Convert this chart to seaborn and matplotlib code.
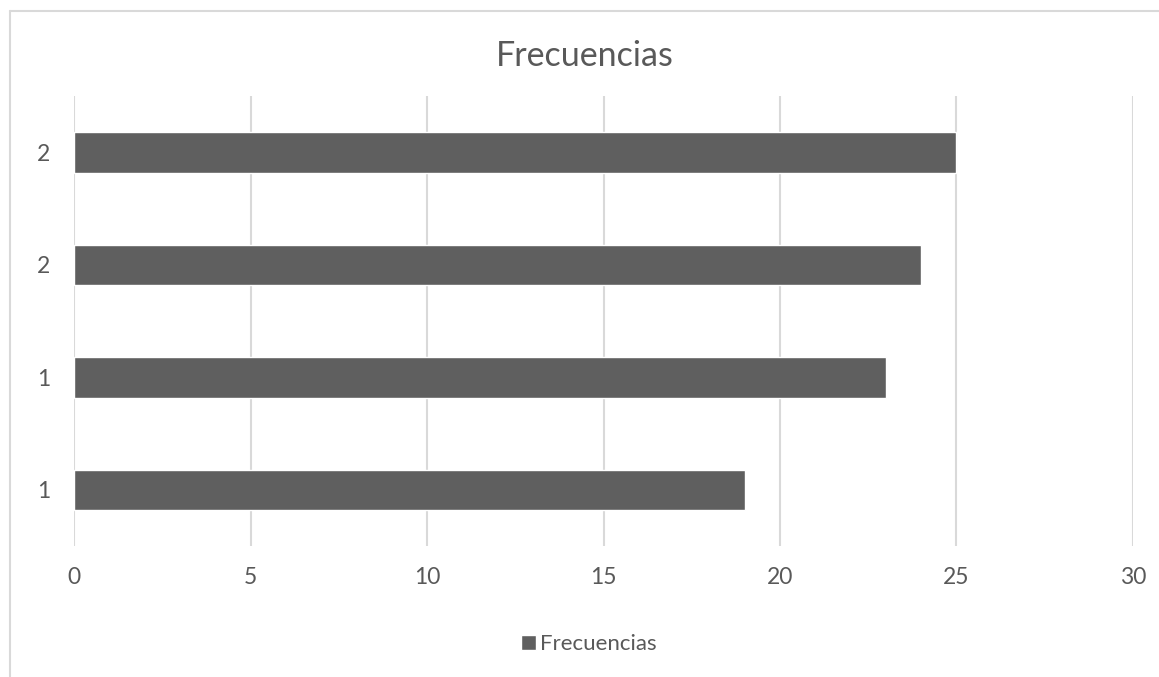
import matplotlib
matplotlib.use("Agg")
import matplotlib.pyplot as plt
from matplotlib.lines import Line2D
import seaborn as sns
import pandas as pd

# Data (top to bottom)
category_labels = ["2", "2", "1", "1"]
values = [25, 24, 23, 19]
series_name = "Frecuencias"
x_ticks = [0, 5, 10, 15, 20, 25, 30]

sns.set_theme(style="white")
plt.rcParams["font.family"] = ["Lato", "DejaVu Sans"]

TEXT = "#595959"
GRID = "#d9d9d9"
BAR = "#5f5f5f"

df = pd.DataFrame({
    "cat": [f"c{i}" for i in range(len(values))],
    "value": values,
    "series": [series_name] * len(values),
})

fig = plt.figure(figsize=(11.59, 6.77), dpi=100)
ax = fig.add_axes([74 / 1159, 1 - 546 / 677, (1133 - 74) / 1159, (546 - 96) / 677])

sns.barplot(data=df, x="value", y="cat", hue="series", orient="h",
            palette=[BAR], width=0.36, dodge=False, ax=ax, legend=True,
            saturation=1)

ax.set_xlim(0, 30)
ax.set_xticks(x_ticks)
ax.set_xticklabels([str(t) for t in x_ticks])
ax.set_yticks(range(len(category_labels)))
ax.set_yticklabels(category_labels)
ax.set_xlabel("")
ax.set_ylabel("")
for s in ax.spines.values():
    s.set_visible(False)
ax.grid(axis="x", color=GRID, linewidth=1.5)
ax.grid(axis="y", visible=False)
ax.set_axisbelow(True)
ax.tick_params(axis="x", length=0, pad=15, labelsize=16.5, labelcolor=TEXT)
ax.tick_params(axis="y", length=0, pad=17, labelsize=16.5, labelcolor=TEXT)

fig.text(585 / 1159, 1 - 56 / 677, "Frecuencias", ha="center", va="center",
         fontsize=24.5, color=TEXT)

sns.move_legend(ax, "center", bbox_to_anchor=(589 / 1159, 1 - 644 / 677),
                bbox_transform=fig.transFigure, frameon=False, title=None,
                fontsize=16, handlelength=0.65, handleheight=0.65,
                handletextpad=0.2, labelcolor=TEXT)

# Chart border (left and top visible)
fig.add_artist(Line2D([9.5 / 1159, 9.5 / 1159], [0, 1 - 10.5 / 677],
                      transform=fig.transFigure, color=GRID, linewidth=1.5))
fig.add_artist(Line2D([9.5 / 1159, 1], [1 - 10.5 / 677, 1 - 10.5 / 677],
                      transform=fig.transFigure, color=GRID, linewidth=1.5))

fig.savefig("out.png", dpi=100)
